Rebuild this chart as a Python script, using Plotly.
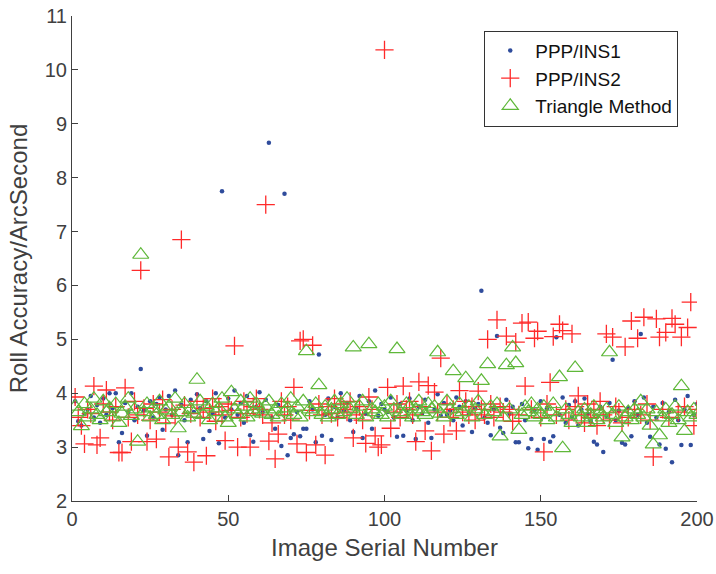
import plotly.graph_objects as go

serial = list(range(1, 201))

ins1 = [
    3.85, 3.48, 3.40, 3.62, 3.70, 3.95, 3.55, 3.78, 3.45, 3.90,
    3.60, 4.00, 3.72, 4.00, 3.09, 3.26, 3.82, 3.65, 4.00, 3.50,
    3.75, 4.45, 3.68, 3.21, 3.85, 3.55, 3.80, 3.92, 3.32, 3.70,
    3.95, 3.60, 4.05, 2.85, 3.78, 3.50, 3.09, 3.88, 3.65, 3.98,
    3.72, 3.15, 3.85, 3.30, 3.62, 4.00, 3.07, 7.75, 3.55, 3.90,
    3.70, 4.05, 3.60, 3.82, 3.45, 3.95, 3.22, 3.10, 3.75, 4.02,
    3.65, 3.88, 8.65, 3.55, 3.34, 3.78, 3.02, 7.70, 2.85, 3.17,
    3.24, 3.65, 3.20, 3.34, 3.34, 3.85, 3.70, 3.09, 4.72, 3.21,
    3.60, 3.90, 3.13, 3.75, 3.55, 4.00, 3.68, 3.82, 3.50, 3.28,
    3.72, 3.95, 3.17, 3.62, 3.85, 3.34, 4.05, 3.58, 3.80, 3.70,
    3.65, 3.92, 3.55, 3.19, 3.80, 3.21, 3.68, 3.90, 3.50, 3.15,
    3.75, 3.62, 3.88, 3.45, 3.17, 3.70, 3.98, 3.58, 3.82, 3.60,
    3.68, 3.50, 3.92, 3.75, 3.40, 3.85, 3.62, 3.28, 3.72, 3.80,
    5.90, 3.55, 3.45, 3.22, 3.70, 5.06, 3.36, 3.26, 3.88, 3.62,
    3.75, 3.09, 3.09, 3.80, 3.50, 2.98, 3.15, 3.68, 2.95, 3.85,
    3.15, 3.72, 3.10, 3.20, 5.04, 3.60, 3.92, 3.45, 3.78, 3.55,
    3.85, 3.40, 3.70, 3.90, 3.62, 3.48, 3.10, 3.05, 3.75, 2.91,
    3.58, 3.82, 4.62, 3.50, 3.68, 3.08, 3.05, 3.72, 3.20, 3.85,
    3.60, 5.10, 3.92, 3.45, 3.19, 3.75, 3.55, 3.05, 3.82, 2.97,
    3.65, 2.72, 3.88, 3.50, 3.04, 3.70, 3.95, 3.04, 3.60, 3.80,
]

ins2 = [
    3.93, 3.55, 3.40, 3.06, 3.70, 3.62, 4.13, 3.04, 3.17, 3.80,
    4.06, 3.65, 3.50, 3.75, 2.90, 2.90, 4.10, 3.55, 3.10, 3.85,
    3.60, 6.28, 3.72, 3.10, 3.50, 3.80, 3.15, 3.65, 3.88, 3.45,
    2.82, 3.70, 3.58, 3.00, 6.85, 3.78, 2.91, 3.62, 2.72, 3.85,
    3.55, 3.72, 2.84, 3.65, 3.90, 3.48, 3.75, 3.60, 3.12, 3.80,
    3.68, 4.88, 3.00, 3.55, 3.85, 3.62, 3.00, 3.75, 3.90, 3.70,
    3.60, 7.50, 3.11, 3.45, 2.78, 3.24, 3.85, 3.60, 3.75, 3.50,
    4.11, 3.06, 4.97, 5.00, 2.90, 3.68, 4.89, 3.04, 3.80, 3.60,
    2.85, 3.75, 3.62, 3.90, 3.55, 3.80, 3.70, 3.65, 3.85, 3.17,
    3.60, 3.75, 3.50, 3.07, 3.93, 3.70, 3.21, 3.00, 3.04, 10.37,
    4.11, 3.35, 3.65, 3.80, 3.55, 4.13, 3.70, 3.85, 3.60, 3.10,
    4.21, 3.75, 3.30, 4.14, 2.93, 4.02, 3.65, 4.65, 3.24, 3.80,
    3.55, 3.70, 3.30, 4.05, 3.65, 3.85, 3.60, 3.75, 3.50, 4.04,
    3.70, 3.60, 5.00, 3.80, 3.55, 5.36, 3.75, 3.65, 5.06, 3.70,
    3.48, 4.95, 3.60, 5.30, 4.13, 5.32, 3.70, 5.02, 5.15, 3.55,
    2.91, 3.80, 4.20, 5.05, 3.60, 5.28, 5.16, 3.70, 3.50, 5.10,
    3.75, 3.95, 3.60, 3.45, 3.80, 3.55, 3.70, 3.40, 3.85, 3.60,
    5.10, 3.50, 5.04, 3.75, 3.65, 3.45, 4.86, 3.55, 5.34, 3.70,
    5.02, 3.60, 5.41, 3.80, 3.50, 2.82, 5.38, 5.04, 3.70, 5.13,
    3.55, 5.39, 5.28, 3.65, 5.04, 3.75, 5.22, 5.69, 3.40, 3.70,
]

triangle = [
    3.75, 3.65, 3.39, 3.80, 3.55, 3.70, 3.90, 3.60, 3.50, 3.85,
    3.65, 3.72, 3.55, 3.80, 3.45, 3.62, 3.75, 3.90, 3.58, 3.70,
    3.10, 6.57, 3.65, 3.80, 3.55, 3.72, 3.60, 3.85, 3.50, 3.68,
    3.75, 3.60, 3.90, 3.35, 3.65, 3.80, 3.55, 3.70, 3.62, 4.25,
    3.85, 3.60, 3.75, 3.50, 3.80, 3.65, 3.72, 3.90, 3.55, 3.45,
    4.02, 3.70, 3.60, 3.85, 3.75, 3.55, 3.90, 3.65, 3.80, 3.70,
    3.62, 3.75, 3.85, 3.60, 3.70, 3.55, 3.80, 3.65, 3.72, 3.90,
    3.60, 3.75, 3.55, 3.85, 4.78, 3.70, 3.65, 3.80, 4.15, 3.60,
    3.75, 3.55, 3.70, 3.85, 3.60, 3.80, 3.65, 3.90, 3.70, 4.85,
    3.60, 3.75, 3.85, 3.55, 4.91, 3.70, 3.65, 3.80, 3.60, 3.75,
    3.55, 3.85, 3.70, 4.82, 3.65, 3.60, 3.80, 3.75, 3.55, 3.70,
    3.85, 3.65, 3.60, 3.80, 3.70, 3.75, 4.76, 3.62, 3.55, 3.85,
    3.70, 4.41, 3.60, 3.80, 3.65, 4.28, 3.75, 3.55, 3.70, 3.85,
    4.23, 3.60, 4.54, 3.75, 3.65, 3.80, 3.20, 3.55, 4.52, 3.70,
    4.85, 4.56, 3.32, 3.60, 3.75, 3.65, 3.80, 3.55, 3.70, 3.60,
    3.75, 3.50, 3.65, 3.80, 3.55, 4.30, 2.98, 3.70, 3.60, 3.45,
    4.47, 3.65, 3.55, 3.70, 3.45, 3.60, 3.75, 3.50, 3.65, 3.55,
    3.70, 4.76, 3.60, 3.45, 3.75, 3.18, 3.55, 3.65, 3.50, 3.70,
    3.60, 3.85, 3.55, 3.70, 3.40, 3.05, 3.65, 3.22, 3.55, 3.70,
    3.45, 3.60, 3.75, 3.50, 4.13, 3.30, 3.65, 3.55, 3.70, 3.60,
]

x_ticks = [0, 50, 100, 150, 200]
y_ticks = [2, 3, 4, 5, 6, 7, 8, 9, 10, 11]

FONT = "Liberation Sans, Arial, sans-serif"
AXC = "#404040"

fig = go.Figure()
fig.add_trace(go.Scatter(
    x=serial, y=ins1, mode="markers", name="PPP/INS1",
    marker=dict(symbol="circle", size=4.5, color="#2f4c9c"),
))
fig.add_trace(go.Scatter(
    x=serial, y=ins2, mode="markers", name="PPP/INS2",
    marker=dict(symbol="cross-thin-open", size=13, color="#ff2a2a",
                line=dict(width=1.3, color="#ff2a2a")),
))
fig.add_trace(go.Scatter(
    x=serial, y=triangle, mode="markers", name="Triangle Method",
    marker=dict(symbol="triangle-up-open", size=14, color="#5fb83a",
                line=dict(width=1.2, color="#5fb83a")),
))

fig.update_layout(
    width=716, height=574,
    margin=dict(l=72, r=19, t=16, b=73),
    paper_bgcolor="white", plot_bgcolor="white",
    font=dict(family=FONT, size=20, color=AXC),
    showlegend=True,
    legend=dict(
        x=0.97, y=0.97, xanchor="right", yanchor="top",
        bgcolor="white", bordercolor="#333333", borderwidth=1,
        font=dict(family=FONT, size=19, color="#111111"),
        itemwidth=40, tracegroupgap=0,
    ),
)
fig.update_xaxes(
    range=[0, 200], tickvals=x_ticks, ticktext=[str(v) for v in x_ticks],
    showline=True, linecolor=AXC, linewidth=1, mirror=False,
    ticks="inside", ticklen=6, tickcolor=AXC,
    showgrid=False, zeroline=False, automargin=False,
    title=dict(text="Image Serial Number", font=dict(size=24, color=AXC), standoff=10),
    tickfont=dict(size=20, color=AXC),
)
fig.update_yaxes(
    range=[2, 11], tickvals=y_ticks, ticktext=[str(v) for v in y_ticks],
    showline=True, linecolor=AXC, linewidth=1, mirror=False,
    ticks="inside", ticklen=6, tickcolor=AXC,
    showgrid=False, zeroline=False, automargin=False,
    title=dict(text="Roll Accuracy/ArcSecond", font=dict(size=24, color=AXC), standoff=10),
    tickfont=dict(size=20, color=AXC),
)

fig.write_html("out.html")
